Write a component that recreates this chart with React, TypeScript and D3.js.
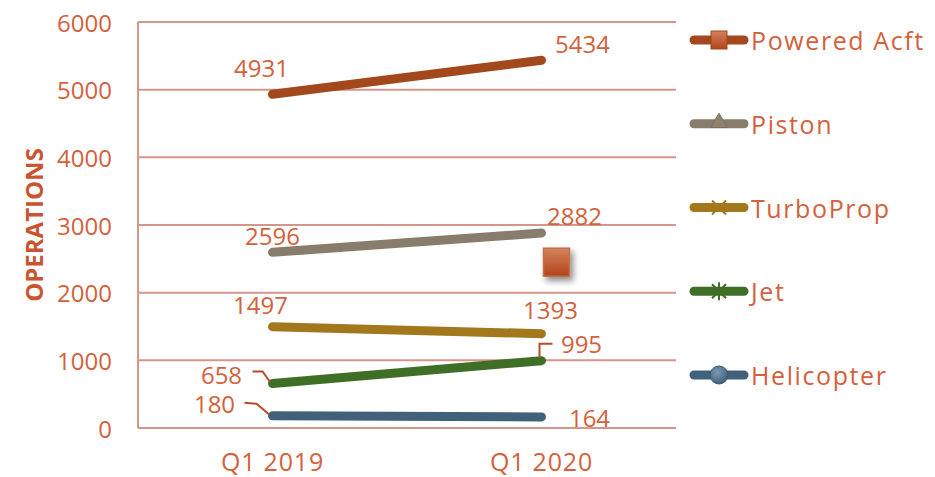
import * as d3 from "d3";

// chart data
const categories = ["Q1 2019", "Q1 2020"];
const seriesNames = ["Powered Acft", "Piston", "TurboProp", "Jet", "Helicopter"];
const poweredAcft = [4931, 5434];
const piston = [2596, 2882];
const turboProp = [1497, 1393];
const jet = [658, 995];
const helicopter = [180, 164];
const yTicks = [0, 1000, 2000, 3000, 4000, 5000, 6000];
// lone marker floating in the plot (value, category)
const strayMarker = { category: "Q1 2020", value: 2450 };

const seriesValues = [poweredAcft, piston, turboProp, jet, helicopter];
const seriesColors = ["#a3471d", "#887d6c", "#a3781c", "#3f6e27", "#41617b"];
const markerTypes = ["square", "triangle", "x", "asterisk", "circle"];

// label center offsets from each point [dx, dy]
const labelOffsets = [
  [[-11, -27], [41, -17]],
  [[0, -17], [33, -17]],
  [[-12, -22], [9, -24]],
  [[-51, -9], [40, -17]],
  [[-58, -12], [48, 1]],
];
// leader lines, relative to the point
const leaders: Record<string, number[][]> = {
  "3-0": [[-20, -12], [-10, -12], [-2, -1]],
  "3-1": [[-2, -3], [-2, -17], [11, -17]],
  "4-0": [[-28, -13], [-16, -12], [-3, -1]],
};

const W = 935, H = 477;
const margin = { top: 22, right: 259, bottom: 49, left: 138 };
const textColor = "#d3613c";
const gridColor = "#d4968b";
const font = "'Open Sans', sans-serif";

function Marker({ type, x, y, color }: { type: string; x: number; y: number; color: string }) {
  if (type === "square") {
    return <rect x={x - 8} y={y - 9} width={16} height={18} fill="url(#sqGrad)" stroke="#a8441c" strokeWidth={1} />;
  }
  if (type === "triangle") {
    const p = d3.symbol().type(d3.symbolTriangle).size(120)();
    return <path d={p || ""} transform={`translate(${x},${y - 1})`} fill="#8f836f" stroke="#7a705f" />;
  }
  if (type === "circle") {
    return <circle cx={x} cy={y} r={9} fill="url(#circGrad)" stroke="#3a566e" strokeWidth={1} />;
  }
  if (type === "x") {
    return (
      <path d={`M${x - 7},${y - 7}L${x + 7},${y + 7}M${x - 7},${y + 7}L${x + 7},${y - 7}`} stroke={color} strokeWidth={2} />
    );
  }
  // asterisk
  return (
    <path
      d={`M${x - 7},${y - 7}L${x + 7},${y + 7}M${x - 7},${y + 7}L${x + 7},${y - 7}M${x},${y - 9}L${x},${y + 9}`}
      stroke={color}
      strokeWidth={2}
    />
  );
}

export default function App() {
  const x = d3.scalePoint<string>().domain(categories).range([margin.left, W - margin.right]).padding(0.5);
  const y = d3.scaleLinear().domain([0, 6000]).range([H - margin.bottom, margin.top]);
  const line = d3
    .line<number>()
    .x((_, i) => x(categories[i])!)
    .y((d) => y(d));

  const legendY = d3.scalePoint<string>().domain(seriesNames).range([40, 375]);

  return (
    <div style={{ position: "fixed", left: 0, top: 0 }}>
      <svg width={W} height={H} style={{ display: "block", background: "#fff" }}>
        <defs>
          <linearGradient id="sqGrad" x1="0" y1="0" x2="0" y2="1">
            <stop offset="0" stopColor="#d4825d" />
            <stop offset="1" stopColor="#b2441a" />
          </linearGradient>
          <radialGradient id="circGrad" cx="0.4" cy="0.35" r="0.7">
            <stop offset="0" stopColor="#7f9cb6" />
            <stop offset="1" stopColor="#3b5a74" />
          </radialGradient>
          <filter id="shadow" x="-50%" y="-50%" width="200%" height="200%">
            <feDropShadow dx="3" dy="4" stdDeviation="3" floodColor="#000" floodOpacity="0.45" />
          </filter>
        </defs>

        {/* grid */}
        {yTicks.map((t) => (
          <line key={t} x1={margin.left} x2={W - margin.right} y1={y(t)} y2={y(t)} stroke={gridColor} strokeWidth={2} />
        ))}
        <line x1={margin.left} x2={margin.left} y1={y(6000)} y2={y(0)} stroke={gridColor} strokeWidth={2} />

        {/* y tick labels */}
        {yTicks.map((t) => (
          <text key={t} x={112} y={y(t)} textAnchor="end" dominantBaseline="central" fill={textColor} fontFamily={font} fontSize={24}>
            {t}
          </text>
        ))}
        <text
          transform={`translate(33,${(y(0) + y(6000)) / 2}) rotate(-90)`}
          textAnchor="middle"
          dominantBaseline="central"
          fill="#c8552f"
          fontFamily={font}
          fontWeight="bold"
          fontSize={24}
        >
          OPERATIONS
        </text>

        {/* x labels */}
        {categories.map((c) => (
          <text key={c} x={x(c)} y={461} textAnchor="middle" dominantBaseline="central" fill={textColor} fontFamily={font} fontSize={25} letterSpacing={0.8}>
            {c}
          </text>
        ))}

        {/* lines */}
        {seriesValues.map((vals, s) => (
          <path key={s} d={line(vals) || ""} fill="none" stroke={seriesColors[s]} strokeWidth={9} strokeLinecap="round" />
        ))}

        {/* leader lines */}
        {Object.entries(leaders).map(([k, pts]) => {
          const [s, i] = k.split("-").map(Number);
          const px = x(categories[i])!;
          const py = y(seriesValues[s][i]);
          const d = d3.line()(pts.map(([dx, dy]) => [px + dx, py + dy] as [number, number]));
          return <path key={k} d={d || ""} fill="none" stroke="#b64d2a" strokeWidth={2} />;
        })}

        {/* data labels */}
        {seriesValues.map((vals, s) =>
          vals.map((v, i) => (
            <text
              key={`${s}-${i}`}
              x={x(categories[i])! + labelOffsets[s][i][0]}
              y={y(v) + labelOffsets[s][i][1]}
              textAnchor="middle"
              dominantBaseline="central"
              fill={textColor}
              fontFamily={font}
              fontSize={24}
            >
              {v}
            </text>
          ))
        )}

        {/* stray marker */}
        <rect
          x={x(strayMarker.category)! + 2}
          y={y(strayMarker.value) - 14}
          width={26}
          height={28}
          fill="url(#sqGrad)"
          stroke="#c0704c"
          strokeWidth={1.5}
          filter="url(#shadow)"
        />

        {/* legend */}
        {seriesNames.map((n, s) => {
          const ly = legendY(n)!;
          return (
            <g key={n}>
              <line x1={694} x2={744} y1={ly} y2={ly} stroke={seriesColors[s]} strokeWidth={9} strokeLinecap="round" />
              <Marker type={markerTypes[s]} x={719} y={ly} color={seriesColors[s]} />
              <text x={751} y={ly} dominantBaseline="central" fill={textColor} fontFamily={font} fontSize={25} letterSpacing={1.6}>
                {n}
              </text>
            </g>
          );
        })}
      </svg>
    </div>
  );
}
